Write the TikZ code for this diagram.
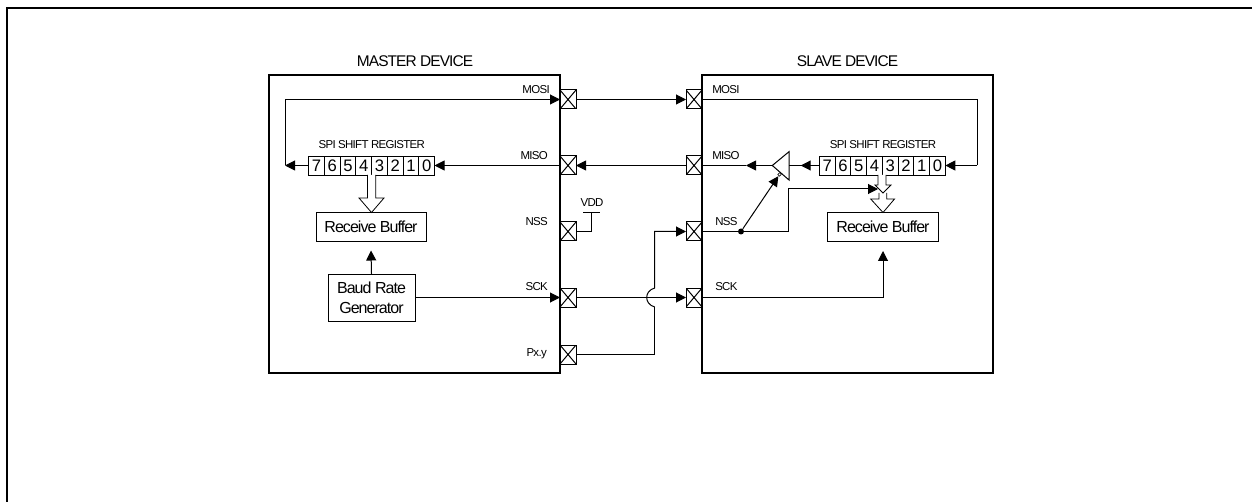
\documentclass[tikz,border=0pt]{standalone}
\usepackage{fontspec}
\setmainfont[LetterSpace=-6]{Liberation Sans}
\usepackage{tikz}
\usetikzlibrary{arrows.meta}
\usetikzlibrary{calc}

\tikzset{
  wire/.style={line width=0.75pt},
  arr/.style={wire, -{Triangle[length=7.5pt,width=7.5pt]}},
  device/.style={draw, line width=1.5pt, minimum width=218.25pt, minimum height=223.5pt, inner sep=0pt, outer sep=0pt},
  pinbox/.style={draw, line width=0.75pt, minimum width=12pt, minimum height=14.25pt, inner sep=0pt, outer sep=0pt,
    path picture={\draw[line width=0.75pt] (path picture bounding box.north west) -- (path picture bounding box.south east)
      (path picture bounding box.north east) -- (path picture bounding box.south west);}},
  cell/.style={draw, line width=0.6pt, minimum width=11.8pt, minimum height=14.25pt, inner sep=0pt, outer sep=0pt, font=\fontsize{12.5}{12.5}\selectfont},
  block/.style={draw, line width=0.6pt, inner sep=0pt, outer sep=0pt, align=center, font=\fontsize{12}{15}\selectfont},
  title/.style={inner sep=0pt, font=\fontsize{11.6}{12}\selectfont},
  small/.style={inner sep=0pt, font=\fontsize{8.6}{10}\selectfont},
  hollow/.style={draw, line width=0.6pt, fill=white, line join=miter},
}

\begin{document}
\begin{tikzpicture}[x=0.75pt, y=-0.75pt]
    \useasboundingbox (0,0) rectangle (1252,502);
    \draw[line width=1.5pt] (7,502) -- (7,8) -- (1252,8);

    \node[device] (master) at (414.5,224) {};
    \node[device] (slave) at (847.5,224) {};
    \node[title] (mtitle) at (415,61) {MASTER DEVICE};
    \node[title] (stitle) at (847.5,61) {SLAVE DEVICE};

    \foreach \name/\ypos in {mosi/99.5, miso/165.5, nss/231.5, sck/297.5, pxy/354.5}
        \node[pinbox] (m\name) at (568,\ypos) {};
    \foreach \name/\ypos in {mosi/99.5, miso/165.5, nss/231.5, sck/297.5}
        \node[pinbox] (s\name) at (694,\ypos) {};

    \node[small, anchor=east] (lmmosi) at (550,90) {MOSI};
    \node[small, anchor=east] (lmmiso) at (548,155.5) {MISO};
    \node[small, anchor=east] (lmnss) at (548,222) {NSS};
    \node[small, anchor=east] (lmsck) at (548,287) {SCK};
    \node[small, anchor=east] (lmpxy) at (547,354) {Px.y};
    \node[small, anchor=west] (lsmosi) at (712,90) {MOSI};
    \node[small, anchor=west] (lsmiso) at (712,155.5) {MISO};
    \node[small, anchor=west] (lsnss) at (715,222) {NSS};
    \node[small, anchor=west] (lssck) at (715,287) {SCK};

    % shift registers
    \foreach \d [count=\i from 0] in {7,6,5,4,3,2,1,0} {
        \node[cell] (mr\d) at ({316.4+15.75*\i},165.5) {\d};
        \node[cell] (sr\d) at ({827.2+15.75*\i},165.5) {\d};
    }
    \node[small] (mrlabel) at (371.7,145) {SPI SHIFT REGISTER};
    \node[small] (srlabel) at (883,145) {SPI SHIFT REGISTER};

    \node[block, minimum width=82.5pt, minimum height=21.4pt] (mbuf) at (371,227) {Receive Buffer};
    \node[block, minimum width=83.25pt, minimum height=21.4pt] (sbuf) at (883,227) {Receive Buffer};
    \node[block, minimum width=65.25pt, minimum height=35.25pt] (baud) at (371.5,297.5) {Baud Rate\\Generator};

    % hollow arrows
    \draw[hollow] (367.5,175) -- (367.5,198) -- (359,198) -- (371.5,212.5) -- (384,198) -- (375.7,198) -- (375.7,175);
    \draw[hollow] (879,193) -- (879,199) -- (870.7,199) -- (883,212.5) -- (894.5,199) -- (886.7,199) -- (886.7,193);
    \draw[hollow] (878,175) -- (878,185) -- (875,185) -- (883,193) -- (891,185) -- (886,185) -- (886,175);

    % master side
    \coordinate (mloop) at (285,165.5);
    \draw[arr] (mr7.west) -- (mloop);
    \draw[arr] (mloop) |- (mmosi.west);
    \draw[arr] (mmiso.west) -- (mr0.east);
    \draw[arr] (baud.north) -- (mbuf.south |- 0,250.5);
    \draw[arr] (baud.east) -- (msck.west);
    \coordinate (vdd) at (591.7,213);
    \draw[wire] (mnss.east) -| (vdd);
    \draw[wire] ($(vdd)+(-8.5,0)$) -- ($(vdd)+(8.5,0)$);
    \node[small] (lvdd) at (592,203) {VDD};

    % between the devices
    \draw[arr] (mmosi.east) -- (smosi.west);
    \draw[arr] (smiso.west) -- (mmiso.east);
    \draw[arr] (msck.east) -- (ssck.west);
    \coordinate (jump) at (654.7,307);
    \draw[wire] (mpxy.east) -| (jump);
    \draw[arr] (jump) .. controls (644,304) and (644,291) .. (654.7,288) |- (snss.west);

    % slave side
    \coordinate (sturn) at (977.3,165.5);
    \draw[wire] (smosi.east) -| (sturn);
    \draw[arr] (sturn) -- (sr0.east);
    \coordinate (bufin) at (789,165.5);
    \coordinate (bufout) at (772.3,165.5);
    \coordinate (buftip) at (800.7,165.5);
    \coordinate (outtip) at (746,165.5);
    \draw[wire] (789,151.7) -- (bufout) -- (789,180) -- cycle;
    \draw[arr] (sr7.west) -- (buftip);
    \draw[wire] (buftip) -- (bufin);
    \draw[arr] (bufout) -- (outtip);
    \draw[wire] (outtip) -- (smiso.east);
    \node[circle, fill=black, inner sep=0pt, minimum size=4.5pt] (nssdot) at (741,231.5) {};
    \node[circle, draw, line width=0.5pt, fill=white, inner sep=0pt, minimum size=2.6pt] (bubble) at (779.5,174.5) {};
    \draw[wire] (snss.east) -- (nssdot);
    \draw[arr] (nssdot) -- (bubble);
    \coordinate (sturnb) at (788.3,189);
    \coordinate (stip) at (878,189);
    \draw[wire] (nssdot) -| (sturnb);
    \draw[arr] (sturnb) -- (stip);
    \draw[arr] (ssck.east) -| (sbuf.south |- 0,251);
\end{tikzpicture}
\end{document}
